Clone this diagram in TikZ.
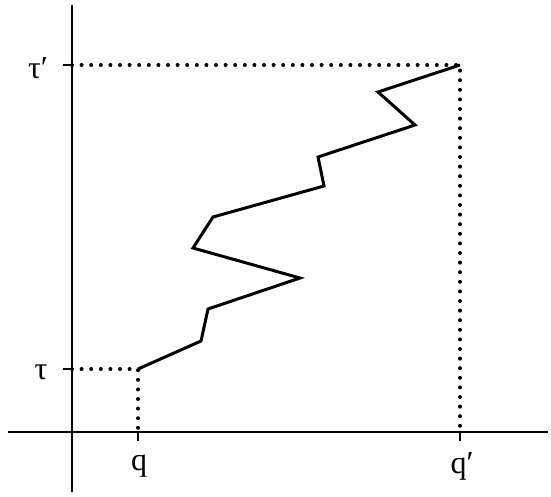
\documentclass[tikz,border=0pt]{standalone}
\usepackage{fontspec}
\setmainfont{Liberation Serif}
\begin{document}
\begin{tikzpicture}[x=1pt,y=-1pt,
  axis/.style={line width=1.5pt},
  walk/.style={line width=3pt,line join=miter},
  dots/.style={line width=4pt,line cap=round,dash pattern=on 0pt off 9.6pt},
  lbl/.style={font=\fontsize{32}{34}\selectfont,inner sep=0pt}]
\useasboundingbox (0,0) rectangle (551,497);
% axes
\coordinate (ytop) at (72,5);
\coordinate (ybot) at (72,492);
\coordinate (xl) at (8,432);
\coordinate (xr) at (548,432);
\draw[axis] (ytop) -- (ybot);
\draw[axis] (xl) -- (xr);
% key points
\coordinate (A) at (138,369);
\coordinate (B) at (460,65);
\coordinate (Ay) at (72,369);
\coordinate (By) at (72,65);
\coordinate (Ax) at (138,432);
\coordinate (Bx) at (460,432);
% ticks
\draw[axis] (Ay) -- ++(-9,0);
\draw[axis] (By) -- ++(-9,0);
\draw[axis] (Ax) -- ++(0,9);
\draw[axis] (Bx) -- ++(0,9);
% dotted guides
\draw[dots] (Ay) -- (A) -- (Ax);
\draw[dots] (By) -- (B) -- (Bx);
% walk
\draw[walk] (A) -- (201,341) -- (208,309) -- (300,278) -- (193,248) -- (213,217)
  -- (324,186) -- (318,157) -- (415,125) -- (378,92) -- (B);
% labels
\node[lbl] (tp) at (38,68) {τ′};
\node[lbl] (t) at (41,372) {τ};
\node[lbl] (q) at (139,466) {q};
\node[lbl] (qp) at (462,466) {q′};
\end{tikzpicture}
\end{document}
